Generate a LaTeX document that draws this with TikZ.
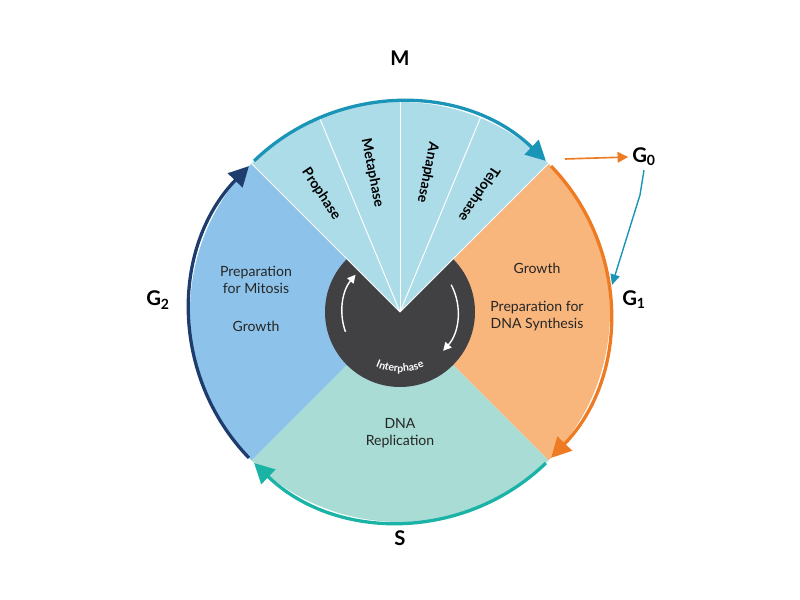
\documentclass[tikz,border=0pt]{standalone}
\usepackage{fontspec}
\setmainfont{Lato}
\usetikzlibrary{arrows.meta,decorations.text}
\definecolor{mfill}{HTML}{ADDCE9}
\definecolor{gonefill}{HTML}{F8B67C}
\definecolor{sfill}{HTML}{A8DCD5}
\definecolor{gtwofill}{HTML}{8DC3EA}
\definecolor{mline}{HTML}{1A95B8}
\definecolor{goneline}{HTML}{EE7A22}
\definecolor{sline}{HTML}{1AB3A6}
\definecolor{gtwoline}{HTML}{1E3D6E}
\definecolor{core}{HTML}{414042}
\tikzset{
  phase/.style={font=\LARGE\bfseries},
  inner/.style={font=\large, align=center, text=black!85},
  sub/.style={font=\large\bfseries},
  ring/.style={line width=2.8pt, -{Triangle[length=17pt,width=17pt]}},
}
\begin{document}
\begin{tikzpicture}[x=0.03cm,y=0.03cm]
    \useasboundingbox (-400,-288) rectangle (400,312);
    %wedges
    \fill[gonefill] (0,0) -- (45:210) arc[start angle=45,end angle=-45,radius=210] -- cycle;
    \fill[sfill] (0,0) -- (-45:210) arc[start angle=-45,end angle=-135,radius=210] -- cycle;
    \fill[gtwofill] (0,0) -- (-135:210) arc[start angle=-135,end angle=-225,radius=210] -- cycle;
    \fill[core] (0,0) circle (75);
    \fill[mfill] (0,0) -- (45:210) arc[start angle=45,end angle=135,radius=210] -- cycle;
    \foreach \a in {45,67.5,90,112.5,135}
        \draw[white, line width=0.8pt] (0,0) -- (\a:210);
    %outer arcs
    \draw[ring, mline] (134:210) arc[start angle=134,end angle=46,radius=210];
    \draw[ring, goneline] (44:210) arc[start angle=44,end angle=-44,radius=210];
    \draw[ring, sline] (-46:210) arc[start angle=-46,end angle=-134,radius=210];
    \draw[ring, gtwoline] (-136:210) arc[start angle=-136,end angle=-224,radius=210];
    %M phases
    \foreach \a/\t in {123.75/Prophase, 101.25/Metaphase, 78.75/Anaphase, 56.25/Telophase}
        \node[sub, rotate=\a-180] at (\a:142) {\t};
    %interphase ring
    \draw[white, line width=1.2pt, -{Triangle[length=7pt,width=7pt]}] (200:58) arc[start angle=200,end angle=140,radius=58];
    \draw[white, line width=1.2pt, -{Triangle[length=7pt,width=7pt]}] (28:58) arc[start angle=28,end angle=-42,radius=58];
    \path[decorate, decoration={text along path, text align=center, text={|\small\bfseries\color{white}|Interphase}}]
        (228:60) arc[start angle=228,end angle=312,radius=60];
    %texts
    \node[inner] (gonea) at (137,44) {Growth};
    \node[inner] (goneb) at (137,-4) {Preparation for\\DNA Synthesis};
    \node[inner] (gtwoa) at (-144,32) {Preparation\\for Mitosis};
    \node[inner] (gtwob) at (-144,-14) {Growth};
    \node[inner] (srep) at (0,-121) {DNA\\Replication};
    %phase labels
    \node[phase] (m) at (0,254) {M};
    \node[phase] (s) at (0,-226) {S};
    \node[phase] (gone) at (234,12) {G\textsubscript{1}};
    \node[phase] (gtwo) at (-242,12) {G\textsubscript{2}};
    \node[phase] (gzero) at (244,155) {G\textsubscript{0}};
    %G0 links
    \coordinate (exit) at (165,153);
    \coordinate (back) at (212,27);
    \draw[goneline, line width=1.4pt, -{Triangle[length=9pt,width=9pt]}] (exit) -- (gzero.west);
    \draw[mline, line width=1.2pt, -{Triangle[length=9pt,width=8pt]}] (gzero.south) -- (240,117) -- (back);
\end{tikzpicture}
\end{document}
